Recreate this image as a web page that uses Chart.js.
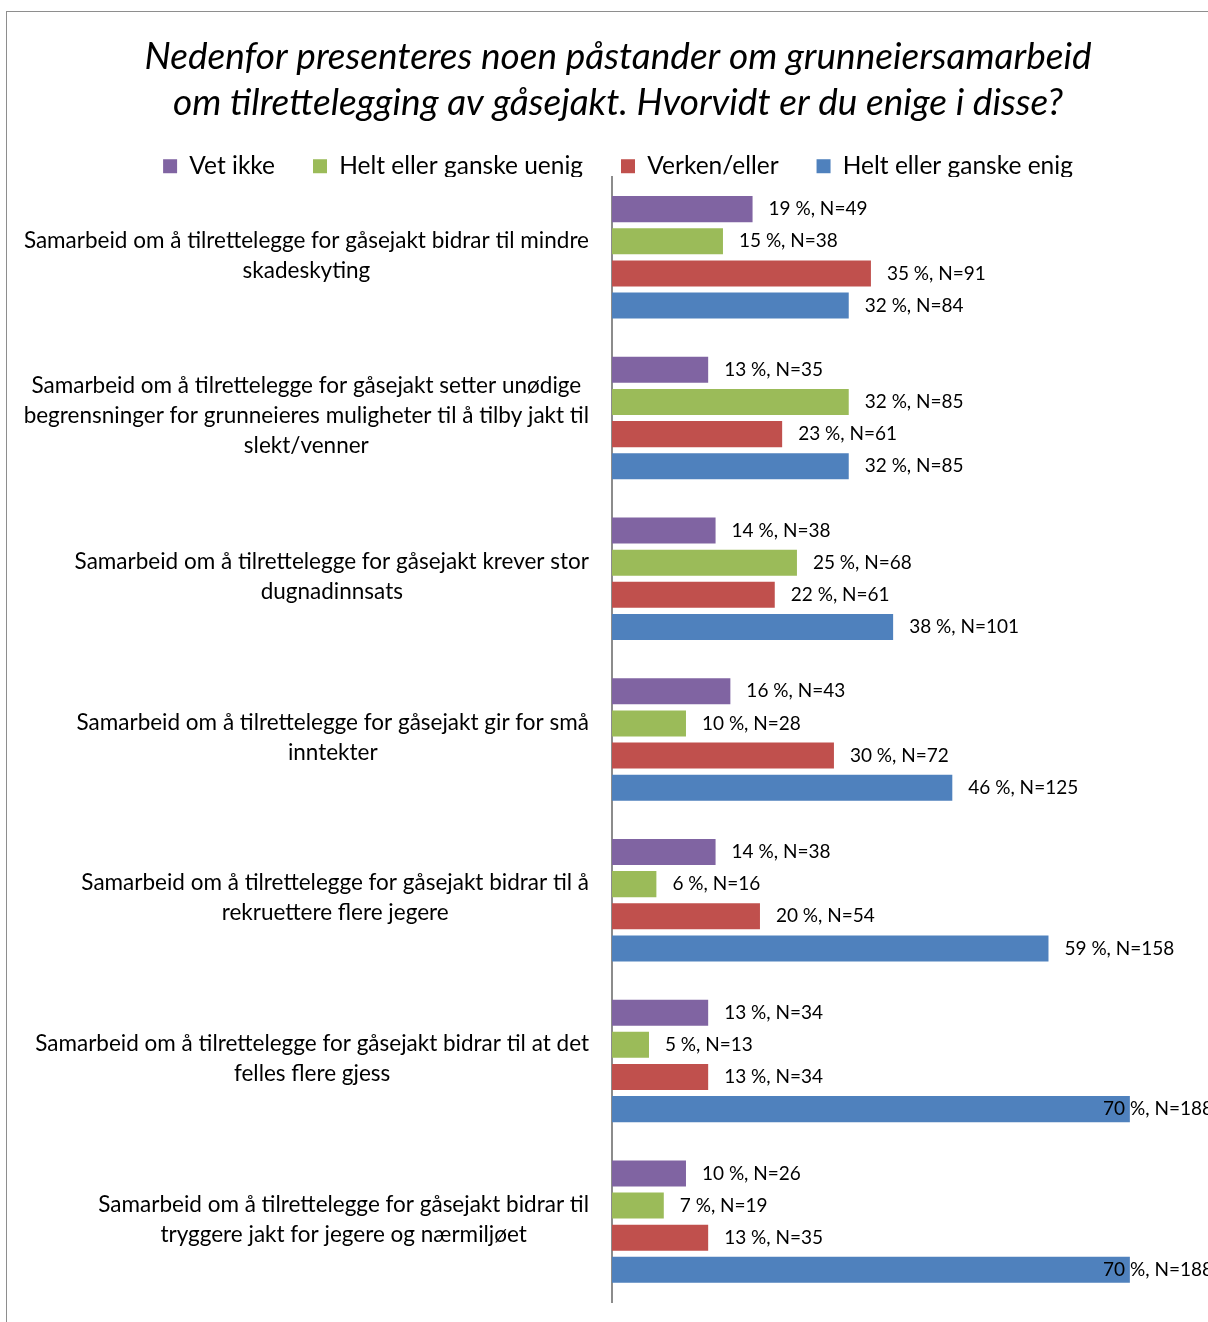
<!DOCTYPE html>
<html>
<head>
<meta charset="utf-8">
<script src="https://cdn.jsdelivr.net/npm/chart.js@4/dist/chart.umd.min.js"></script>
<style>
  html, body { margin: 0; padding: 0; background: #fff; overflow: hidden; }
  #frame {
    position: absolute; left: 6px; top: 11px;
    width: 1240px; height: 1340px;
    border: 1px solid #8e8e8e;
  }
  #wrap { position: absolute; left: 0; top: 0; width: 1222px; height: 1320px; }
</style>
</head>
<body>
<div id="frame">
  <div id="wrap"><canvas id="chart" width="1222" height="1320"></canvas></div>
</div>
<script>
// statements (wrapped as in the picture)
const categories = [
  ['Samarbeid om å tilrettelegge for gåsejakt bidrar til mindre', 'skadeskyting'],
  ['Samarbeid om å tilrettelegge for gåsejakt setter unødige', 'begrensninger for grunneieres muligheter til å tilby jakt til', 'slekt/venner'],
  ['Samarbeid om å tilrettelegge for gåsejakt krever stor', 'dugnadinnsats'],
  ['Samarbeid om å tilrettelegge for gåsejakt gir for små', 'inntekter'],
  ['Samarbeid om å tilrettelegge for gåsejakt bidrar til å', 'rekruettere flere jegere'],
  ['Samarbeid om å tilrettelegge for gåsejakt bidrar til at det', 'felles flere gjess'],
  ['Samarbeid om å tilrettelegge for gåsejakt bidrar til', 'tryggere jakt for jegere og nærmiljøet']
];

const seriesNames = ['Vet ikke', 'Helt eller ganske uenig', 'Verken/eller', 'Helt eller ganske enig'];

// percentages
const pctVetIkke = [19, 13, 14, 16, 14, 13, 10];
const pctUenig   = [15, 32, 25, 10, 6, 5, 7];
const pctVerken  = [35, 23, 22, 30, 20, 13, 13];
const pctEnig    = [32, 32, 38, 46, 59, 70, 70];

// number of answers
const nVetIkke = [49, 35, 38, 43, 38, 34, 26];
const nUenig   = [38, 85, 68, 28, 16, 13, 19];
const nVerken  = [91, 61, 61, 72, 54, 34, 35];
const nEnig    = [84, 85, 101, 125, 158, 188, 188];

const colors = ['#8064A2', '#9BBB59', '#C0504D', '#4F81BD'];
const FONT = 'Lato';
const X_MAX = 83.4; // axis runs past the cropped right edge

const pcts = [pctVetIkke, pctUenig, pctVerken, pctEnig];
const counts = [nVetIkke, nUenig, nVerken, nEnig];

// category labels on the left, each line centred in a right-aligned block
const categoryLabels = {
  id: 'categoryLabels',
  afterDraw(chart) {
    const ctx = chart.ctx;
    const yScale = chart.scales.y;
    const right = chart.chartArea.left - 23;
    ctx.save();
    ctx.font = `22.5px ${FONT}`;
    ctx.fillStyle = '#000';
    ctx.textAlign = 'center';
    ctx.textBaseline = 'middle';
    const lh = 30;
    categories.forEach((lines, i) => {
      const widest = Math.max(...lines.map(l => ctx.measureText(l).width));
      const cx = right - widest / 2;
      const cy = yScale.getPixelForValue(i) - 2;
      const top = cy - (lines.length - 1) * lh / 2;
      lines.forEach((l, j) => ctx.fillText(l, cx, top + j * lh));
    });
    ctx.restore();
  }
};

// "19 %, N=49" labels after each bar
const barLabels = {
  id: 'barLabels',
  afterDatasetsDraw(chart) {
    const ctx = chart.ctx;
    ctx.save();
    ctx.font = `19px ${FONT}`;
    ctx.fillStyle = '#000';
    ctx.textAlign = 'left';
    ctx.textBaseline = 'middle';
    chart.data.datasets.forEach((ds, d) => {
      chart.getDatasetMeta(d).data.forEach((bar, i) => {
        const txt = `${pcts[d][i]} %, N=${counts[d][i]}`;
        const w = ctx.measureText(txt).width;
        let x = bar.x + 16;
        const maxX = chart.chartArea.right - 16 - w;
        if (x > maxX) x = maxX;
        ctx.fillText(txt, x, bar.y);
      });
    });
    ctx.restore();
  }
};

new Chart(document.getElementById('chart'), {
  type: 'bar',
  data: {
    labels: categories.map(c => c.join(' ')),
    datasets: seriesNames.map((name, d) => ({
      label: name,
      data: pcts[d],
      backgroundColor: colors[d],
      borderWidth: 0,
      categoryPercentage: 0.8,
      barPercentage: 0.81
    }))
  },
  options: {
    indexAxis: 'y',
    responsive: false,
    animation: false,
    layout: { padding: { left: 0, right: 0, top: 0, bottom: 30 } },
    scales: {
      x: { min: 0, max: X_MAX, display: false },
      y: {
        ticks: { display: false },
        grid: { display: false, drawTicks: false },
        border: { display: true, color: '#8c8c8c', width: 2 },
        afterFit(scale) { scale.width = 605; }
      }
    },
    plugins: {
      title: {
        display: true,
        text: ['Nedenfor presenteres noen påstander om grunneiersamarbeid',
               'om tilrettelegging av gåsejakt. Hvorvidt er du enige i disse?'],
        color: '#000',
        font: { family: FONT, size: 37, style: 'italic', weight: 'normal', lineHeight: 1.243 },
        padding: { top: 22, bottom: -10 }
      },
      legend: {
        position: 'top',
        maxHeight: 61,
        labels: {
          boxWidth: 14,
          boxHeight: 14,
          padding: 38,
          color: '#000',
          font: { family: FONT, size: 24.5 }
        }
      },
      tooltip: { enabled: false }
    }
  },
  plugins: [categoryLabels, barLabels]
});
</script>
</body>
</html>
